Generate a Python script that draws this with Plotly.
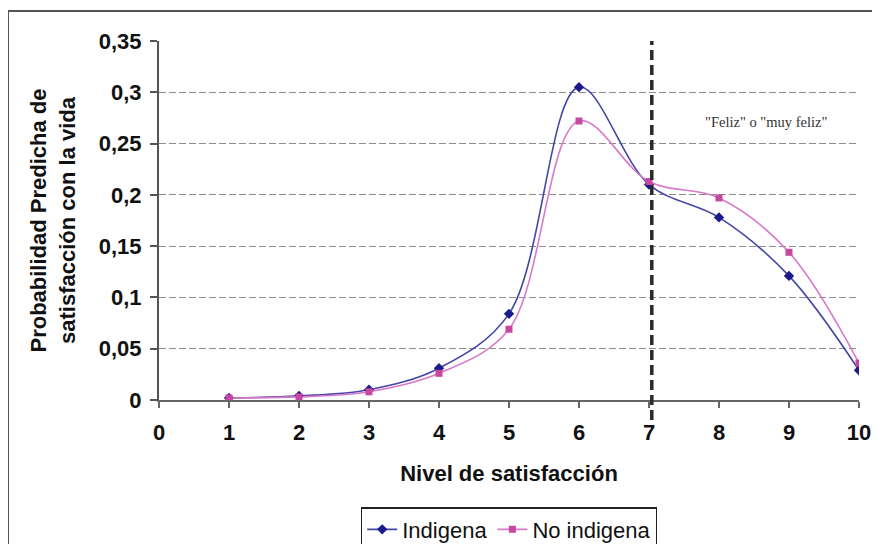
import plotly.graph_objects as go

# ---------------- data ----------------
niveles = [1, 2, 3, 4, 5, 6, 7, 8, 9, 10]
indigena = [0.002, 0.004, 0.010, 0.031, 0.084, 0.305, 0.210, 0.178, 0.121, 0.029]
no_indigena = [0.002, 0.003, 0.008, 0.026, 0.069, 0.272, 0.213, 0.197, 0.144, 0.036]

x_tickvals = [0, 1, 2, 3, 4, 5, 6, 7, 8, 9, 10]
x_ticktext = ["0", "1", "2", "3", "4", "5", "6", "7", "8", "9", "10"]
y_tickvals = [0, 0.05, 0.1, 0.15, 0.2, 0.25, 0.3, 0.35]
y_ticktext = ["0", "0,05", "0,1", "0,15", "0,2", "0,25", "0,3", "0,35"]

umbral_feliz = 7.04          # vertical separator position
x_range = [0, 10]
y_range = [0, 0.35]

FONT = "Liberation Sans, Arial, sans-serif"

fig = go.Figure()
fig.add_trace(go.Scatter(
    x=niveles, y=indigena, name="Indigena", mode="lines+markers",
    line=dict(color="#4545a8", width=1.6, shape="spline", smoothing=1.0),
    marker=dict(symbol="diamond", size=8, color="#1b1b8e"),
))
fig.add_trace(go.Scatter(
    x=niveles, y=no_indigena, name="No indigena", mode="lines+markers",
    line=dict(color="#d87ac8", width=1.6, shape="spline", smoothing=1.0),
    marker=dict(symbol="square", size=7, color="#c8479e"),
))

# page body has an 8px margin, so the figure is 8px smaller than the window
W, H = 872, 536
L, R, T, B = 151, 21, 33, 143.5
pw, ph = W - L - R, H - T - B

# vertical dashed line (Feliz threshold), extends a bit below the axis
xd = (umbral_feliz - x_range[0]) / (x_range[1] - x_range[0])
fig.add_shape(type="line", xref="x domain", yref="paper",
              x0=xd, x1=xd, y0=-20 / ph, y1=1.0,
              line=dict(color="#2a2a2a", width=3.5, dash="10px,5px"), layer="above")

# outer chart border (extends past right/bottom edges of the window)
fig.add_shape(type="rect", xref="paper", yref="paper",
              x0=(0 - L) / pw, x1=(W + 20 - L) / pw,
              y0=-(B + 20) / ph, y1=1 + (T - 3) / ph,
              line=dict(color="#555555", width=2), fillcolor="rgba(0,0,0,0)", layer="below")

fig.add_annotation(x=8.67, y=0.271, xref="x", yref="y",
                   text="\"Feliz\" o \"muy feliz\"", showarrow=False,
                   font=dict(family="Liberation Serif, Times New Roman, serif", size=14.5, color="#333333"))

fig.update_layout(
    width=W, height=H,
    margin=dict(l=L, r=R, t=T, b=B, autoexpand=False),
    paper_bgcolor="white", plot_bgcolor="white",
    font=dict(family=FONT, size=22, color="#111111"),
    showlegend=True,
    legend=dict(orientation="h", x=0.5, xanchor="center", y=-0.299, yanchor="top",
                bordercolor="#222222", borderwidth=1.2, bgcolor="white",
                font=dict(family=FONT, size=22, color="#111111"),
                itemwidth=30, tracegroupgap=0),
)

fig.update_xaxes(
    range=x_range, tickvals=x_tickvals, ticktext=x_ticktext,
    showgrid=False, zeroline=False,
    showline=True, linecolor="#666666", linewidth=2,
    ticks="outside", ticklen=6, tickwidth=1.5, tickcolor="#666666",
    ticklabelstandoff=6,
    tickfont=dict(family=FONT, size=22, color="#111111", weight="bold"),
    title=dict(text="<b>Nivel de satisfacción</b>", standoff=21,
               font=dict(family=FONT, size=22, color="#111111")),
)
fig.update_yaxes(
    range=y_range, tickvals=y_tickvals, ticktext=y_ticktext,
    showgrid=True, gridcolor="#8c8c8c", gridwidth=1, griddash="7px,3px",
    zeroline=False,
    showline=True, linecolor="#555555", linewidth=2,
    ticks="outside", ticklen=7, tickwidth=1.5, tickcolor="#555555",
    ticklabelstandoff=4,
    tickfont=dict(family=FONT, size=22, color="#111111", weight="bold"),
    title=dict(text="<b>Probabilidad Predicha de<br>satisfacción con la vida</b>", standoff=17,
               font=dict(family=FONT, size=22, color="#111111")),
)

fig.write_html("out.html")
